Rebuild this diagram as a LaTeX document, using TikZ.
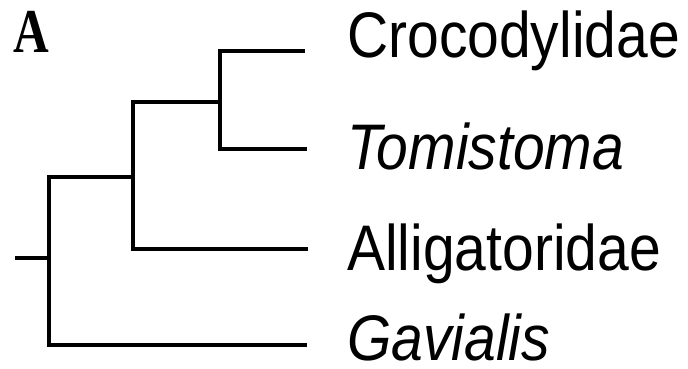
\documentclass[tikz,border=0pt]{standalone}
\usepackage{fontspec}
\setmainfont{Liberation Sans}
\newfontfamily\panelfont{Liberation Serif}
\usetikzlibrary{positioning}

\tikzset{
  branch/.style={line width=4.6pt, line join=miter, line cap=butt},
  taxon/.style={anchor=base west, inner sep=0pt, font=\fontsize{57}{60}\selectfont},
}
\newcommand{\tall}[1]{\scalebox{1}[1.13]{#1}}

\begin{document}
\begin{tikzpicture}[x=1pt, y=-1pt]
            \useasboundingbox (0,0) rectangle (688,369);

            % panel letter
            \node (panel) at (13,53) [anchor=base west, inner sep=0pt]
                {\panelfont\bfseries\fontsize{52}{54}\selectfont\scalebox{0.95}[1.2]{A}};

            % internal nodes
            \coordinate (stub)  at (15,258);
            \coordinate (root)  at (49,258);
            \coordinate (croc)  at (133,177);
            \coordinate (crtom) at (220,102);

            % tips
            \coordinate (tCro) at (305,51);
            \coordinate (tTom) at (307,149);
            \coordinate (tAll) at (308,249);
            \coordinate (tGav) at (307,345);

            % branches
            \draw[branch] (stub) -- (root);
            \draw[branch] (croc) -| (root) |- (tGav);
            \draw[branch] (crtom) -| (croc) |- (tAll);
            \draw[branch] (tCro) -| (crtom) |- (tTom);

            % taxon labels
            \node (lCro) at (347,58)  [taxon] {\tall{Crocodylidae}};
            \node (lTom) at (347,169) [taxon] {\tall{\itshape Tomistoma}};
            \node (lAll) at (347,270) [taxon] {\tall{Alligatoridae}};
            \node (lGav) at (347,360) [taxon] {\tall{\itshape Gavialis}};
\end{tikzpicture}
\end{document}
